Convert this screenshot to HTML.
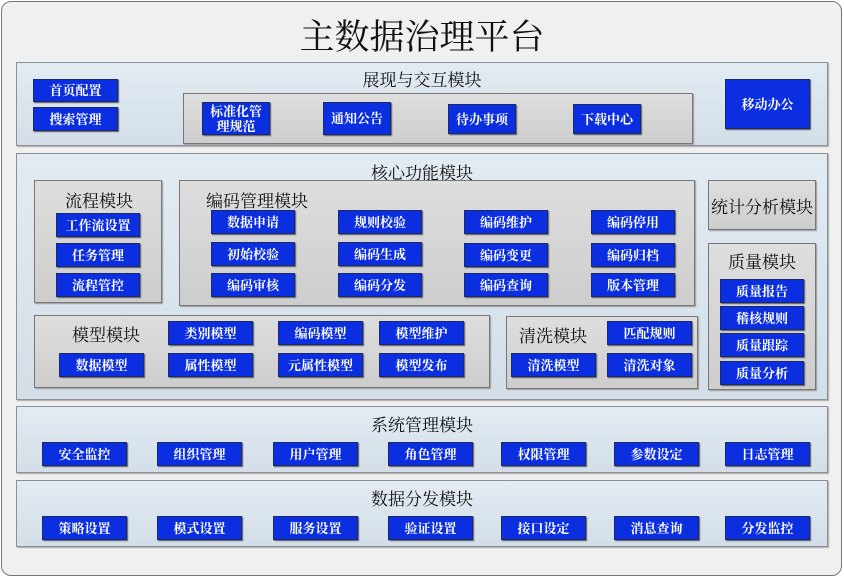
<!DOCTYPE html>
<html><head><meta charset="utf-8"><style>
*{margin:0;padding:0;box-sizing:border-box}
body{width:844px;height:578px;background:#fff;position:relative;overflow:hidden;font-family:"Liberation Serif","Noto Serif CJK SC",serif}
.a{position:absolute}
.outer{left:1px;top:1px;width:841px;height:575px;border:1px solid #777;border-radius:10px;background:#f0f0f0}
.sec{border:1px solid #8a9096;background:linear-gradient(#e3ebf2,#d3dee8);box-shadow:1px 1px 1px #aaa}
.pan{border:1px solid #777;background:linear-gradient(#dedede,#cdcdcd);box-shadow:1px 1px 1px #999}
.b{position:absolute;background:#0b2fe0;border:1px solid #1a2a66;color:#fff;font-size:13px;font-weight:bold;display:flex;align-items:center;justify-content:center;text-align:center;line-height:15px;box-shadow:1px 1px 1px #556}
.t{position:absolute;font-size:17px;color:#111;white-space:nowrap}
.title{left:0;width:844px;top:10px;text-align:center;font-size:35px;color:#111}
</style></head><body>
<div class="a outer"></div>
<div class="t title">主数据治理平台</div>

<div class="a sec" style="left:16px;top:62px;width:812px;height:84px"></div>
<div class="t" style="left:0;width:844px;text-align:center;top:66px">展现与交互模块</div>
<div class="b" style="left:33px;top:79px;width:85px;height:23px">首页配置</div>
<div class="b" style="left:33px;top:107px;width:85px;height:24px">搜索管理</div>
<div class="a pan" style="left:183px;top:93px;width:510px;height:51px"></div>
<div class="b" style="left:202px;top:102px;width:68px;height:33px">标准化管<br>理规范</div>
<div class="b" style="left:323px;top:102px;width:68px;height:33px">通知公告</div>
<div class="b" style="left:448px;top:104px;width:68px;height:30px">待办事项</div>
<div class="b" style="left:573px;top:104px;width:68px;height:30px">下载中心</div>
<div class="b" style="left:725px;top:79px;width:85px;height:50px">移动办公</div>

<div class="a sec" style="left:16px;top:153px;width:812px;height:247px"></div>
<div class="t" style="left:0;width:844px;text-align:center;top:159px">核心功能模块</div>
<div class="a pan" style="left:34px;top:180px;width:128px;height:123px"></div>
<div class="t" style="left:65px;top:187px">流程模块</div>
<div class="b" style="left:56px;top:213px;width:84px;height:24px">工作流设置</div>
<div class="b" style="left:56px;top:243px;width:84px;height:24px">任务管理</div>
<div class="b" style="left:56px;top:273px;width:84px;height:24px">流程管控</div>

<div class="a pan" style="left:179px;top:180px;width:516px;height:126px"></div>
<div class="t" style="left:206px;top:187px">编码管理模块</div>
<div class="b" style="left:211px;top:210px;width:84px;height:24px">数据申请</div>
<div class="b" style="left:338px;top:210px;width:84px;height:24px">规则校验</div>
<div class="b" style="left:464px;top:210px;width:84px;height:24px">编码维护</div>
<div class="b" style="left:591px;top:210px;width:84px;height:24px">编码停用</div>
<div class="b" style="left:211px;top:242px;width:84px;height:24px">初始校验</div>
<div class="b" style="left:338px;top:242px;width:84px;height:24px">编码生成</div>
<div class="b" style="left:464px;top:243px;width:84px;height:24px">编码变更</div>
<div class="b" style="left:591px;top:243px;width:84px;height:24px">编码归档</div>
<div class="b" style="left:211px;top:273px;width:84px;height:24px">编码审核</div>
<div class="b" style="left:338px;top:273px;width:84px;height:24px">编码分发</div>
<div class="b" style="left:464px;top:273px;width:84px;height:24px">编码查询</div>
<div class="b" style="left:591px;top:273px;width:84px;height:24px">版本管理</div>

<div class="a pan" style="left:708px;top:180px;width:108px;height:50px"></div>
<div class="t" style="left:708px;width:108px;text-align:center;top:193px">统计分析模块</div>
<div class="a pan" style="left:708px;top:243px;width:108px;height:147px"></div>
<div class="t" style="left:708px;width:108px;text-align:center;top:248px">质量模块</div>
<div class="b" style="left:720px;top:279px;width:84px;height:24px">质量报告</div>
<div class="b" style="left:720px;top:306px;width:84px;height:24px">稽核规则</div>
<div class="b" style="left:720px;top:333px;width:84px;height:24px">质量跟踪</div>
<div class="b" style="left:720px;top:361px;width:84px;height:24px">质量分析</div>

<div class="a pan" style="left:34px;top:315px;width:456px;height:73px"></div>
<div class="t" style="left:72px;top:321px">模型模块</div>
<div class="b" style="left:168px;top:321px;width:85px;height:24px">类别模型</div>
<div class="b" style="left:278px;top:321px;width:85px;height:24px">编码模型</div>
<div class="b" style="left:379px;top:321px;width:85px;height:24px">模型维护</div>
<div class="b" style="left:59px;top:353px;width:85px;height:24px">数据模型</div>
<div class="b" style="left:168px;top:353px;width:85px;height:24px">属性模型</div>
<div class="b" style="left:278px;top:353px;width:85px;height:24px">元属性模型</div>
<div class="b" style="left:379px;top:353px;width:85px;height:24px">模型发布</div>

<div class="a pan" style="left:506px;top:316px;width:192px;height:73px"></div>
<div class="t" style="left:519px;top:322px">清洗模块</div>
<div class="b" style="left:607px;top:321px;width:85px;height:24px">匹配规则</div>
<div class="b" style="left:511px;top:353px;width:85px;height:24px">清洗模型</div>
<div class="b" style="left:607px;top:353px;width:85px;height:24px">清洗对象</div>

<div class="a sec" style="left:16px;top:406px;width:812px;height:67px"></div>
<div class="t" style="left:0;width:844px;text-align:center;top:411px">系统管理模块</div>
<div class="b" style="left:42px;top:442px;width:85px;height:24px">安全监控</div>
<div class="b" style="left:157px;top:442px;width:85px;height:24px">组织管理</div>
<div class="b" style="left:273px;top:442px;width:85px;height:24px">用户管理</div>
<div class="b" style="left:388px;top:442px;width:85px;height:24px">角色管理</div>
<div class="b" style="left:501px;top:442px;width:85px;height:24px">权限管理</div>
<div class="b" style="left:614px;top:442px;width:85px;height:24px">参数设定</div>
<div class="b" style="left:725px;top:442px;width:85px;height:24px">日志管理</div>

<div class="a sec" style="left:16px;top:480px;width:812px;height:67px"></div>
<div class="t" style="left:0;width:844px;text-align:center;top:485px">数据分发模块</div>
<div class="b" style="left:42px;top:516px;width:85px;height:24px">策略设置</div>
<div class="b" style="left:157px;top:516px;width:85px;height:24px">模式设置</div>
<div class="b" style="left:273px;top:516px;width:85px;height:24px">服务设置</div>
<div class="b" style="left:388px;top:516px;width:85px;height:24px">验证设置</div>
<div class="b" style="left:501px;top:516px;width:85px;height:24px">接口设定</div>
<div class="b" style="left:614px;top:516px;width:85px;height:24px">消息查询</div>
<div class="b" style="left:725px;top:516px;width:85px;height:24px">分发监控</div>
</body></html>
